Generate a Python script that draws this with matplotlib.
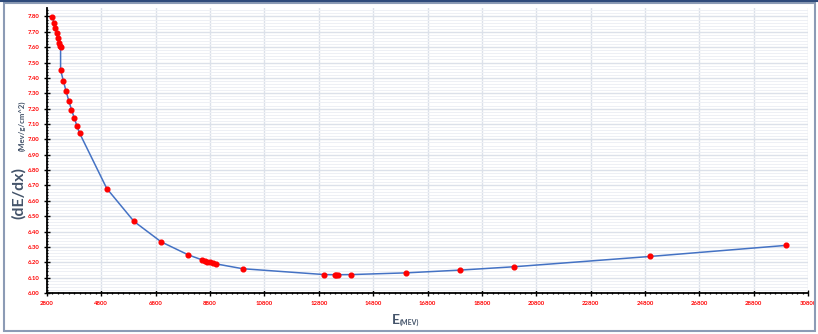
import matplotlib
matplotlib.use("Agg")
import matplotlib.pyplot as plt
from matplotlib.ticker import MultipleLocator, FormatStrFormatter
from matplotlib.patches import Rectangle
from matplotlib.lines import Line2D

# Energy (MeV) and stopping power dE/dx (MeV/(g/cm^2))
energy = [3000, 3050, 3100, 3150, 3200, 3250, 3290, 3300, 3300, 3400, 3500, 3600,
          3700, 3800, 3900, 4000, 5000, 6000, 7000, 8000, 8500, 8600, 8700, 8800,
          8900, 9000, 10000, 13000, 13400, 13450, 13500, 14000, 16000, 18000,
          20000, 25000, 30000]
dedx = [7.797, 7.759, 7.726, 7.694, 7.659, 7.629, 7.607, 7.600, 7.451, 7.382,
        7.315, 7.252, 7.194, 7.142, 7.087, 7.040, 6.680, 6.466, 6.333, 6.248,
        6.216, 6.210, 6.203, 6.199, 6.195, 6.190, 6.158, 6.120, 6.119, 6.119,
        6.119, 6.120, 6.131, 6.149, 6.171, 6.238, 6.310]

x_ticks = list(range(2800, 30801, 2000))
y_min, y_max, y_step = 6.0, 7.855, 0.1

W, H = 818, 334
fig = plt.figure(figsize=(W / 100, H / 100), dpi=100)
fig.patch.set_facecolor("white")

ax = fig.add_axes([47 / W, (H - 293) / H, (808 - 47) / W, (293 - 8) / H])

# grid
ax.set_axisbelow(True)
ax.set_xticks(x_ticks)
ax.xaxis.set_minor_locator(MultipleLocator(200))
ax.yaxis.set_major_locator(MultipleLocator(y_step))
ax.yaxis.set_minor_locator(MultipleLocator(0.02))
ax.grid(which="major", axis="both", color="#DCE1EA", lw=1.0)
ax.grid(which="minor", axis="y", color="#EEF0F5", lw=0.7)

ax.plot(energy, dedx, color="#4472C4", lw=1.1, zorder=3)
ax.plot(energy, dedx, ls="none", marker="o", ms=3.4, color="#FF0000",
        mec="#FF0000", zorder=4)

ax.set_xlim(x_ticks[0], x_ticks[-1])
ax.set_ylim(y_min, y_max)
ax.yaxis.set_major_formatter(FormatStrFormatter("%.2f"))

for s in ("top", "right"):
    ax.spines[s].set_visible(False)
for s in ("left", "bottom"):
    ax.spines[s].set_color("black")
    ax.spines[s].set_linewidth(1.3)

ax.tick_params(which="major", direction="inout", length=4, width=1.0,
               color="black", labelsize=4.3, labelcolor="#FF0000", pad=3.5)
ax.tick_params(which="minor", direction="inout", length=2, width=0.9,
               color="black")
for lab in ax.get_xticklabels() + ax.get_yticklabels():
    lab.set_fontweight("bold")
    lab.set_family("Lato")

# axis titles
title_color = "#44546A"
fig.text(19 / W, 1 - 193 / H, "(dE/dx)", rotation=90, ha="center", va="center",
         fontsize=11.5, color=title_color, family="Lato", fontweight="bold")
fig.text(22 / W, 1 - 126 / H, "(Mev/g/cm^2)", rotation=90, ha="center",
         va="center", fontsize=5.6, color=title_color, family="Lato",
         fontweight="bold")
fig.text(396 / W, 1 - 320 / H, "E", ha="center", va="center", fontsize=10,
         color=title_color, family="Lato", fontweight="bold")
fig.text(409 / W, 1 - 322 / H, "(MEV)", ha="center", va="center", fontsize=5,
         color=title_color, family="Lato", fontweight="bold")

# chart frame
fig.add_artist(Rectangle((4 / W, 3 / H), (815 - 4) / W, (331 - 3) / H,
                         transform=fig.transFigure, fill=False,
                         edgecolor="#8C9BB5", lw=1.5))
fig.add_artist(Line2D([0, 1], [1 - 0.6 / H, 1 - 0.6 / H],
                      transform=fig.transFigure, color="#2F4A7A", lw=1.5))

fig.savefig("out.png", dpi=100, facecolor="white")
